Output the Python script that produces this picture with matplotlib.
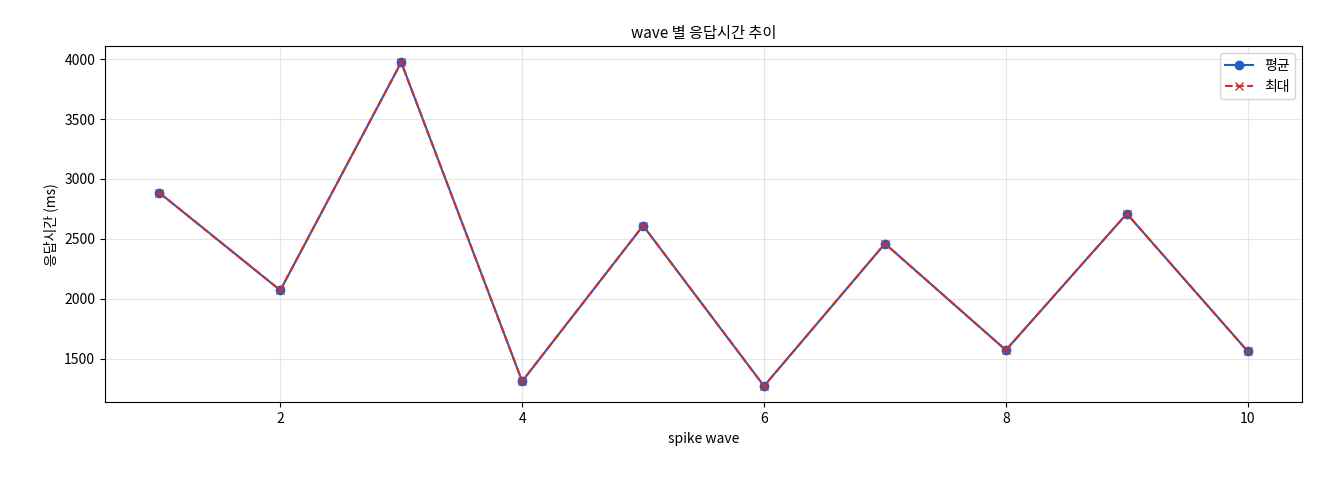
import matplotlib
matplotlib.use("Agg")
import matplotlib.pyplot as plt

plt.rcParams['font.family'] = ['Noto Sans CJK KR', 'DejaVu Sans']

waves = [1, 2, 3, 4, 5, 6, 7, 8, 9, 10]
avg_ms = [2885, 2070, 3975, 1310, 2610, 1270, 2460, 1570, 2710, 1560]
max_ms = [2885, 2070, 3975, 1310, 2610, 1270, 2460, 1570, 2710, 1560]

fig = plt.figure(figsize=(13.2, 4.8), dpi=100)
ax = fig.add_axes([0.0795, 0.162, 0.907, 0.742])
ax.plot(waves, avg_ms, marker='o', color='#1f5fbf', label='평균', markersize=6)
ax.plot(waves, max_ms, marker='x', linestyle='--', color='#d62c2c', label='최대', markersize=6)
ax.set_title('wave 별 응답시간 추이', fontsize=11)
ax.set_xlabel('spike wave', fontsize=10)
ax.set_ylabel('응답시간 (ms)', fontsize=10)
ax.grid(True, alpha=0.3)
ax.legend(loc='upper right')
fig.savefig('out.png', dpi=100)
